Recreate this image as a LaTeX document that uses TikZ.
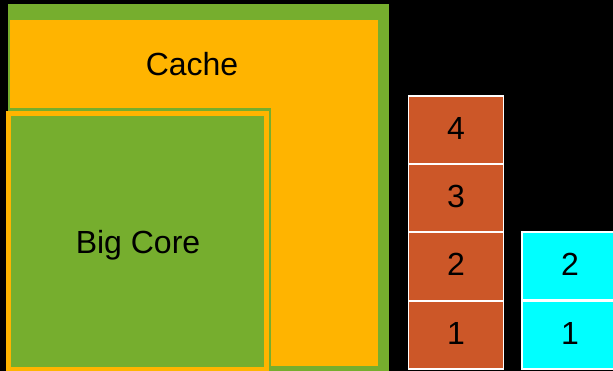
\documentclass[tikz,border=0pt]{standalone}
\usepackage{fontspec}
\setmainfont{Liberation Sans}
\definecolor{coregreen}{RGB}{118,174,46}
\definecolor{cacheorange}{RGB}{255,180,0}
\definecolor{slotred}{RGB}{204,87,40}
\definecolor{slotcyan}{RGB}{0,255,255}
\tikzset{
  bigtext/.style={font=\fontsize{32}{38}\selectfont, text=black, inner sep=0pt,
    text height=23pt, text depth=0pt},
  slot/.style={draw=white, line width=1.5pt, minimum width=95pt, minimum height=68pt,
    inner sep=0pt, font=\fontsize{32}{38}\selectfont, text=black,
    text height=23pt, text depth=4pt},
  redslot/.style={slot, fill=slotred},
  cyanslot/.style={slot, fill=slotcyan},
}
\begin{document}
\begin{tikzpicture}[x=1pt,y=-1pt]
  % canvas
  \fill[black] (0,0) rectangle (613,371);
  \useasboundingbox (0,0) rectangle (613,371);

  % cache block: green frame with orange body
  \fill[coregreen] (8,4) rectangle (389,371);
  \fill[cacheorange] (10,20) rectangle (378,366);
  \node[bigtext] (cache) at (192,64) {Cache};

  % big core: thin green outline, orange rim, green body
  \fill[coregreen] (8,108) rectangle (271,366);
  \fill[cacheorange] (6,111) rectangle (269,371);
  \fill[coregreen] (11,116) rectangle (264,367);
  \node[bigtext] (core) at (138,242.5) {Big Core};

  % stack of four slots
  \node[redslot] (r1) at (456,335) {1};
  \node[redslot] (r2) at (456,266.5) {2};
  \node[redslot] (r3) at (456,198) {3};
  \node[redslot] (r4) at (456,130) {4};

  % stack of two slots
  \node[cyanslot, minimum width=96pt] (c1) at (570,335) {1};
  \node[cyanslot, minimum width=96pt] (c2) at (570,266) {2};
\end{tikzpicture}
\end{document}
